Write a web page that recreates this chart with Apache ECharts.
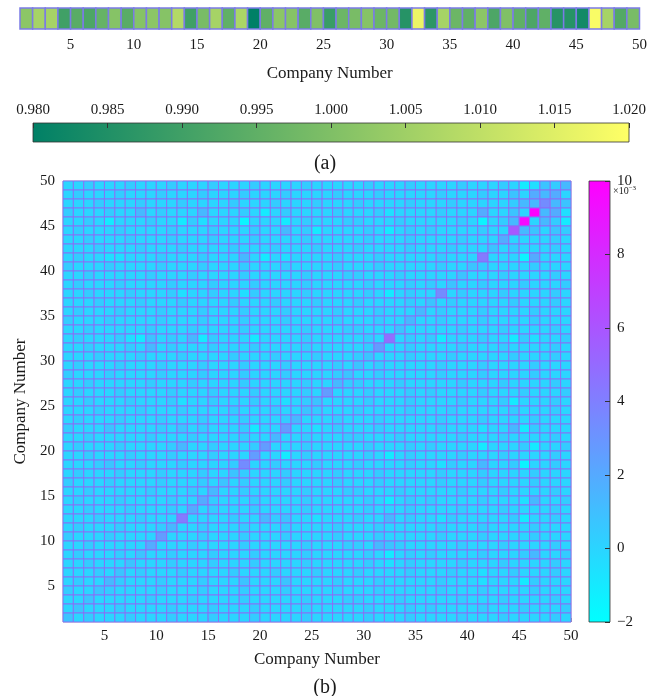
<!DOCTYPE html>
<html lang="en">

<head>
    <meta http-equiv="Content-Type" content="text/html;charset=UTF-8">
    <title>company matrix</title>
    <script src="https://cdn.jsdelivr.net/npm/echarts@6/dist/echarts.min.js"></script>
    <style type="text/css">
        body {
            margin: 0;
        }

        #main {
            height: 696px;
            width: 650px;
        }
    </style>
</head>

<body>
    <div id="main"></div>
</body>
<script>
    // (a) one value per company cell, read from the strip
    var stripValues = [
        1.002, 1.006, 1.006, 0.990, 0.994, 0.992, 0.996, 1.001, 0.994, 1.001,
        1.002, 1.001, 1.008, 0.990, 0.999, 1.006, 0.995, 1.007, 0.980, 0.995,
        1.002, 1.001, 0.994, 1.000, 0.989, 0.997, 0.999, 1.001, 0.997, 0.998,
        0.986, 1.017, 0.987, 1.006, 0.997, 0.995, 1.002, 0.992, 1.000, 0.995,
        0.992, 0.995, 0.986, 0.986, 0.983, 1.019, 1.006, 0.993, 0.999
    ];

    // (b) cell levels (x10^-3), one code per cell, rows from top (49) to bottom (1)
    var levelCodes = '0123456789ABCDE';
    var levelValues = [-1.5, -1.0, -0.5, 0.0, 0.4, 0.8, 1.3, 1.9, 2.6, 3.4, 4.2, 4.8, 5.8, 9.6, 10.0];
    var matrixRows = [
        '3343334 3334333 4333433 3343333 3433343 3334333 4312546', // 49
        '3433343 3343334 3334333 4333343 3343333 3433343 3537673',
        '3334333 4333433 3343334 3334333 4333343 3343333 3466965',
        '4333433 6343336 3334313 4333343 3342333 3433373 353E672',
        '3343133 3433142 3330333 1343334 4333433 3334303 46D3641', // 45
        '3433343 3334333 4333433 6341333 3431343 4333343 3C65354',
        '3343334 3334333 4333433 3343333 3433343 3334333 7333343',
        '3334333 4333433 3343334 3334333 4333343 3343335 3433343',
        '3433223 3343334 3336313 2333343 3343333 34333A3 3307333',
        '4333433 3343334 3334333 4333343 3343333 3433543 3334333', // 40
        '3343333 3433343 3334333 3343334 4333433 3335333 4333343',
        '3433343 3334333 4333433 3343333 3433343 4353343 3343334',
        '3343334 3334233 4332433 3343333 3431343 3934333 4333343',
        '3334333 4333433 3343334 3334333 4333343 5343333 3433343',
        '3433343 3343334 3334333 4333343 3343336 3433343 3334333', // 35
        '4333433 3343334 3334333 4333343 3343363 3433343 3334333',
        '3343333 3433343 3334333 3343334 4333533 3334333 4333343',
        '3433342 1534361 4333133 3343333 343B343 4133343 3142334',
        '3343334 3634333 4333433 3343333 3483343 3334333 4333343',
        '3334333 4333433 3343334 3334333 4533343 3343333 3433343', // 30
        '3433343 3343334 3334333 4333343 5343333 3433343 3334333',
        '4333433 3343334 3334333 4333345 3343333 3433343 3334333',
        '3343333 3433343 3334333 3343364 4333433 3334333 4333343',
        '3433343 3334333 4333433 3343833 3433343 4333343 3343334',
        '3343334 3334233 4333433 2345333 3433343 3334333 4133343', // 25
        '3334333 4333433 3343334 3354333 4333343 3343333 3433343',
        '3433343 3343334 3334333 4633343 3343333 3433343 3334333',
        '4333533 3343534 3334133 8332343 3343333 3433323 3614333',
        '3343333 3433343 3334336 3343334 4333433 3334333 4333343',
        '3433343 3334633 4333483 3343333 3433343 4333313 3341334', // 20
        '3343334 3334333 4333833 1343333 3431343 3334333 4333343',
        '3334533 4333433 3349334 3334333 4333343 3243363 3403343',
        '3433343 3343334 3354333 4333343 3343333 3433343 3334333',
        '4333433 3343334 3534333 4333343 3343333 3433343 3334333',
        '3343333 3433343 6334333 3343334 4333433 3334333 4333343', // 15
        '3433343 3334337 4333433 3343333 3431343 4333343 3326334',
        '3343334 3334373 4333433 3343333 3433343 3334333 4333343',
        '3334333 4333A33 3343364 5332333 4336343 3243333 3413343',
        '3433343 3346334 3334333 4333343 3343333 3433343 3334333',
        '4333433 3383334 3334333 4333343 3343333 3433343 3334333', // 10
        '3343333 3733343 3334333 3343334 4365433 3334333 4333343',
        '3433343 5334333 4333433 3343333 3431343 4333343 3346334',
        '3343335 3334333 4333433 3343333 3432343 3334333 4333343',
        '3334353 4333433 3343334 3334333 4333343 3343323 3433343',
        '3433643 3343334 3335333 5333343 3343333 3433323 3314333', // 5
        '4335433 3343334 3334333 4333343 3343333 3433343 3334333',
        '3353333 3433343 3334333 3343334 4333433 3334333 4333343',
        '3533343 3334333 4333433 3343333 3433343 4333343 3343334',
        '5343334 3334333 4333433 3343333 3433343 3334333 4333343'  // 1
    ];

    var companyTicks = [5, 10, 15, 20, 25, 30, 35, 40, 45, 50];
    var stripRange = [0.98, 1.02];
    var matrixRange = [-2, 10];

    var serif = "'Liberation Serif', 'DejaVu Serif', serif";
    var summer = ['#008066', '#ffff66'];
    var cool = ['#00ffff', '#ff00ff'];

    var stripData = stripValues.map(function (v, k) {
        return [k + 1, 0, v];
    });

    var matrixData = [];
    matrixRows.forEach(function (row, k) {
        var codes = row.replace(/ /g, '');
        var j = matrixRows.length - k;
        for (var i = 0; i < codes.length; i++) {
            matrixData.push([i + 1, j, levelValues[levelCodes.indexOf(codes[i])]]);
        }
    });

    function cellRenderer(edge, width) {
        return function (params, api) {
            var x = api.value(0), y = api.value(1);
            var p0 = api.coord([x, y + 1]);
            var p1 = api.coord([x + 1, y]);
            return {
                type: 'rect',
                shape: { x: p0[0], y: p0[1], width: p1[0] - p0[0], height: p1[1] - p0[1] },
                style: { fill: api.visual('color'), stroke: edge, lineWidth: width }
            };
        };
    }

    function barRenderer(colors, vertical) {
        return function (params, api) {
            var cs = params.coordSys;
            var stops = [{ offset: 0, color: colors[0] }, { offset: 1, color: colors[1] }];
            var grad = vertical ?
                new echarts.graphic.LinearGradient(0, 1, 0, 0, stops) :
                new echarts.graphic.LinearGradient(0, 0, 1, 0, stops);
            return {
                type: 'rect',
                shape: { x: cs.x, y: cs.y, width: cs.width, height: cs.height },
                style: { fill: grad, stroke: '#333', lineWidth: 0.8 }
            };
        };
    }

    var labelStyle = { fontFamily: serif, fontSize: 15, color: '#1a1a1a' };
    var nameStyle = { fontFamily: serif, fontSize: 17, color: '#1a1a1a' };

    option = {
        animation: false,
        backgroundColor: '#fff',
        title: [
            { text: '(a)', left: 'center', top: 149, textStyle: { fontFamily: serif, fontSize: 20, fontWeight: 'normal', color: '#1a1a1a' } },
            { text: '(b)', left: 'center', top: 673, textStyle: { fontFamily: serif, fontSize: 20, fontWeight: 'normal', color: '#1a1a1a' } }
        ],
        grid: [
            { left: 20, top: 8, width: 620, height: 21 },
            { left: 33, top: 123, width: 596, height: 19 },
            { left: 63, top: 181, width: 508, height: 441, show: true, borderColor: '#b0b0b8', borderWidth: 1 },
            { left: 589, top: 181, width: 21, height: 441 }
        ],
        xAxis: [{
            gridIndex: 0, type: 'value', min: 1, max: 50,
            name: 'Company Number', nameLocation: 'middle', nameGap: 36, nameTextStyle: nameStyle,
            axisLine: { show: false, onZero: false }, axisTick: { show: false }, splitLine: { show: false },
            axisLabel: Object.assign({ customValues: companyTicks, margin: 9 }, labelStyle)
        }, {
            gridIndex: 1, type: 'value', min: stripRange[0], max: stripRange[1], interval: 0.005, position: 'top', z: 5,
            axisLine: { show: false, onZero: false }, splitLine: { show: false },
            axisTick: { inside: true, length: 5, lineStyle: { color: '#333' } },
            axisLabel: Object.assign({ margin: 5, formatter: function (v) { return v.toFixed(3); } }, labelStyle)
        }, {
            gridIndex: 2, type: 'value', min: 1, max: 50,
            name: 'Company Number', nameLocation: 'middle', nameGap: 29, nameTextStyle: nameStyle,
            axisLine: { show: false, onZero: false }, splitLine: { show: false },
            axisTick: { inside: true, length: 4, customValues: companyTicks, lineStyle: { color: '#999' } },
            axisLabel: Object.assign({ customValues: companyTicks, margin: 7 }, labelStyle)
        }, {
            gridIndex: 3, type: 'value', min: 0, max: 1, show: false
        }],
        yAxis: [{
            gridIndex: 0, type: 'value', min: 0, max: 1, show: false
        }, {
            gridIndex: 1, type: 'value', min: 0, max: 1, show: false
        }, {
            gridIndex: 2, type: 'value', min: 1, max: 50,
            name: 'Company Number', nameLocation: 'middle', nameGap: 27, nameRotate: 90, nameTextStyle: nameStyle,
            axisLine: { show: false, onZero: false }, splitLine: { show: false },
            axisTick: { inside: true, length: 4, customValues: companyTicks, lineStyle: { color: '#999' } },
            axisLabel: Object.assign({ customValues: companyTicks, margin: 8 }, labelStyle)
        }, {
            gridIndex: 3, type: 'value', min: matrixRange[0], max: matrixRange[1], interval: 2, position: 'right', z: 5,
            axisLine: { show: false, onZero: false }, splitLine: { show: false },
            axisTick: { inside: true, length: 5, lineStyle: { color: '#333' } },
            axisLabel: Object.assign({
                margin: 7,
                formatter: function (v) { return v < 0 ? '\u2212' + Math.abs(v) : String(v); }
            }, labelStyle)
        }],
        visualMap: [{
            type: 'continuous', show: false, seriesIndex: 0, dimension: 2,
            min: stripRange[0], max: stripRange[1], inRange: { color: summer }
        }, {
            type: 'continuous', show: false, seriesIndex: 2, dimension: 2,
            min: matrixRange[0], max: matrixRange[1], inRange: { color: cool }
        }],
        graphic: [{
            type: 'text', left: 613, top: 185,
            style: {
                text: '{a|\u00d710}{b|\u22123}',
                rich: {
                    a: { fontFamily: serif, fontSize: 10, fill: '#1a1a1a' },
                    b: { fontFamily: serif, fontSize: 7, fill: '#1a1a1a', verticalAlign: 'top', padding: [0, 0, 6, 0] }
                }
            }
        }],
        series: [{
            type: 'custom', xAxisIndex: 0, yAxisIndex: 0,
            renderItem: cellRenderer('#7b7be6', 1.5),
            encode: { x: 0, y: 1 },
            data: stripData
        }, {
            type: 'custom', xAxisIndex: 1, yAxisIndex: 1,
            renderItem: barRenderer(summer, false),
            data: [[0.98, 0]]
        }, {
            type: 'custom', xAxisIndex: 2, yAxisIndex: 2,
            renderItem: cellRenderer('#8b6cf6', 0.9),
            encode: { x: 0, y: 1 },
            data: matrixData
        }, {
            type: 'custom', xAxisIndex: 3, yAxisIndex: 3,
            renderItem: barRenderer(cool, true),
            data: [[0, 0]]
        }]
    };

    var myChart = echarts.init(document.getElementById('main'));
    myChart.setOption(option);
</script>

</html>
